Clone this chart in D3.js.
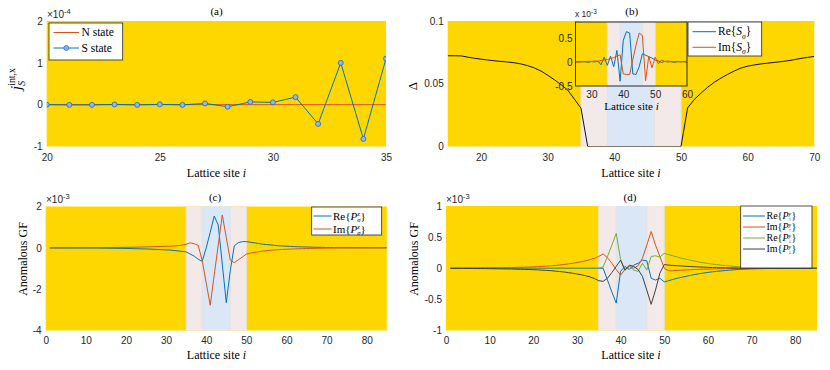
<!DOCTYPE html>
<html><head><meta charset="utf-8">
<script src="https://cdn.jsdelivr.net/npm/d3@7"></script>
<style>body{margin:0;background:#fff;} svg{display:block;}</style>
</head><body><svg id="chart" width="830" height="370"></svg>
<script>
// ---------- DATA ----------
// (a) spin current, units 1e-4
const aSites = [20,21,22,23,24,25,26,27,28,29,30,31,32,33,34,35];
const aNstate = [0,0,0,0,0,0,0,0,0,0,0,0,0,0,0,0];
const aSstate = [0.0,-0.005,-0.005,0.005,-0.005,0.008,-0.005,0.03,-0.05,0.065,0.055,0.18,-0.46,1.0,-0.82,1.1];

// (b) gap profile
const bSites = [15,16,17,18,19,20,21,22,23,24,25,26,27,28,29,30,31,32,33,34,35,36,37,38,39,40,41,42,43,44,45,46,47,48,49,50,51,52,53,54,55,56,57,58,59,60,61,62,63,64,65,66,67,68,69,70];
const bDelta = [0.0723,0.0723,0.0722,0.0712,0.0703,0.0696,0.0689,0.0683,0.0678,0.0673,0.0667,0.0658,0.0644,0.0626,0.0601,0.0568,0.0532,0.0493,0.0450,0.0378,0.0305,
  0,0,0,0,0,0,0,0,0,0,0,0,0,0,0,
  0.0308,0.0375,0.0425,0.0472,0.0512,0.0545,0.0575,0.0602,0.0625,0.0640,0.0650,0.0658,0.0664,0.0670,0.0676,0.0683,0.0692,0.0702,0.0710,0.0718];

// (b) inset, units 1e-3
const insetSites = [25,26,27,28,29,30,31,32,33,34,35,36,37,38,39,40,41,42,43,44,45,46,47,48,49,50,51,52,53,54,55,56,57,58,59,60];
const insetRe = [0.00,0.01,0.00,0.01,-0.01,0.01,0.00,0.02,-0.06,0.10,-0.07,0.12,-0.10,0.24,-0.40,0.45,0.63,0.60,-0.25,-0.26,-0.10,0.17,0.14,0.11,0.08,0.04,0.02,-0.01,0.01,0.00,0.01,-0.01,0.01,0.00,0.01,0.00];
const insetIm = [0.00,-0.01,0.01,0.00,0.01,0.01,0.02,0.01,0.03,0.04,0.05,0.07,0.09,0.12,0.15,-0.25,-0.26,-0.26,0.05,0.35,0.60,0.55,-0.39,0.12,-0.12,0.10,-0.04,0.04,0.01,0.02,0.00,0.01,0.00,0.01,0.00,0.00];

// (c),(d) lattice sites
const cdSites = [1,2,3,4,5,6,7,8,9,10,11,12,13,14,15,16,17,18,19,20,21,22,23,24,25,26,27,28,29,30,31,32,33,34,35,36,37,38,39,40,41,42,43,44,45,46,47,48,49,50,51,52,53,54,55,56,57,58,59,60,61,62,63,64,65,66,67,68,69,70,71,72,73,74,75,76,77,78,79,80,81,82,83,84,85];

// (c) units 1e-3
const cRe = [-0.01,-0.01,-0.01,-0.01,-0.01,-0.01,-0.01,-0.01,-0.01,-0.01,
  -0.01,-0.01,-0.01,-0.015,-0.015,-0.02,-0.02,-0.025,-0.025,-0.03,
  -0.035,-0.04,-0.045,-0.05,-0.055,-0.06,-0.07,-0.08,-0.09,-0.10,
  -0.11,-0.13,-0.15,-0.17,-0.20,
  -0.30,-0.40,-0.55,-0.65,0.00,0.75,1.54,1.10,-0.78,-2.65,-1.10,0.10,0.25,0.30,0.30,
  0.27,0.24,0.21,0.18,0.16,0.14,0.12,0.10,0.09,0.08,
  0.07,0.06,0.05,0.045,0.04,0.035,0.03,0.025,0.02,0.018,
  0.015,0.013,0.011,0.01,0.009,0.008,0.007,0.006,0.005,0.004,
  0.004,0.003,0.003,0.002,0.002];
const cIm = [0.005,0.005,0.006,0.006,0.007,0.007,0.008,0.008,0.009,0.009,
  0.01,0.01,0.01,0.012,0.013,0.015,0.017,0.02,0.022,0.025,
  0.028,0.03,0.035,0.04,0.045,0.05,0.055,0.06,0.07,0.075,
  0.08,0.09,0.11,0.13,0.17,
  0.24,0.20,0.12,-0.62,-1.70,-2.78,-1.30,0.14,1.59,0.50,-0.60,-0.72,-0.58,-0.45,-0.30,
  -0.26,-0.22,-0.19,-0.16,-0.14,-0.12,-0.10,-0.09,-0.08,-0.07,
  -0.06,-0.05,-0.045,-0.04,-0.035,-0.03,-0.025,-0.02,-0.018,-0.015,
  -0.013,-0.011,-0.01,-0.009,-0.008,-0.007,-0.006,-0.005,-0.004,-0.004,
  -0.003,-0.003,-0.002,-0.002,-0.002];

// (d) units 1e-3
const dReUp = [0,0,0,0,0,0,0,0,0,0,
  0,0,0,0,0,0,0,0,0,0,
  0,0,0,0,0,0,0,0,0,0,
  0,0,0,0,0,
  0.00,-0.19,-0.38,-0.56,-0.05,0.03,-0.02,0.05,0.08,0.13,0.12,-0.16,-0.19,-0.16,-0.22,
  -0.20,-0.18,-0.16,-0.145,-0.13,-0.115,-0.10,-0.088,-0.077,-0.067,
  -0.058,-0.05,-0.043,-0.036,-0.03,-0.025,-0.02,-0.016,-0.013,-0.01,
  -0.008,-0.006,-0.005,-0.004,-0.003,-0.002,-0.002,-0.001,-0.001,-0.001,
  0,0,0,0,0];
const dImUp = [0.002,0.002,0.003,0.003,0.004,0.004,0.005,0.005,0.006,0.007,
  0.008,0.009,0.01,0.011,0.012,0.014,0.016,0.018,0.02,0.023,
  0.026,0.03,0.034,0.039,0.045,0.052,0.06,0.07,0.08,0.092,
  0.105,0.12,0.14,0.16,0.19,
  0.23,0.17,0.08,-0.02,-0.11,-0.02,0.03,0.00,0.04,0.16,0.37,0.59,0.37,0.19,0.00,
  -0.04,-0.04,-0.035,-0.03,-0.027,-0.024,-0.02,-0.018,-0.015,-0.013,
  -0.011,-0.01,-0.008,-0.007,-0.006,-0.005,-0.004,-0.003,-0.003,-0.002,
  -0.002,-0.002,-0.001,-0.001,-0.001,-0.001,0,0,0,0,
  0,0,0,0,0];
const dReDown = [0,0,0,0,0,0,0,0,0,0,
  0,0,0,0,0,0,0,0,0,0,
  0,0,0,0,0,0,0,0,0,0,
  0,0,0,0,0,
  0.02,0.19,0.37,0.56,0.14,-0.03,0.03,-0.03,-0.05,0.08,-0.03,0.19,0.20,0.18,0.24,
  0.22,0.20,0.18,0.16,0.145,0.13,0.115,0.10,0.088,0.077,
  0.067,0.058,0.05,0.043,0.036,0.03,0.025,0.02,0.016,0.013,
  0.01,0.008,0.006,0.005,0.004,0.003,0.002,0.002,0.001,0.001,
  0.001,0,0,0,0];
const dImDown = [-0.002,-0.002,-0.003,-0.003,-0.004,-0.004,-0.005,-0.005,-0.006,-0.007,
  -0.008,-0.009,-0.01,-0.011,-0.012,-0.014,-0.016,-0.018,-0.02,-0.023,
  -0.026,-0.03,-0.034,-0.039,-0.045,-0.052,-0.06,-0.07,-0.08,-0.092,
  -0.105,-0.12,-0.14,-0.165,-0.20,
  -0.21,-0.16,-0.07,0.03,0.13,-0.03,0.05,0.03,-0.02,-0.13,-0.35,-0.58,-0.35,-0.08,0.06,
  0.05,0.045,0.04,0.036,0.032,0.028,0.024,0.02,0.017,0.014,
  0.012,0.01,0.008,0.007,0.006,0.005,0.004,0.003,0.003,0.002,
  0.002,0.001,0.001,0.001,0.001,0,0,0,0,0,
  0,0,0,0,0];

// tick labels
const aXTicks = [20,25,30,35], aYTicks = [-1,0,1,2];
const bXTicks = [20,30,40,50,60,70], bYTicks = [0,0.05,0.1];
const insetXTicks = [30,40,50,60], insetYTicks = [-0.5,0,0.5];
const cdXTicks = [0,10,20,30,40,50,60,70,80];
const cYTicks = [-4,-2,0,2], dYTicks = [-1,-0.5,0,0.5,1];
// junction regions (sites)
const outerRegion = [35,50], innerRegion = [39,46];

// ---------- STYLE ----------
const SANS = "'Liberation Sans', Arial, Helvetica, sans-serif";
const SERIF = "'Liberation Serif', 'Times New Roman', serif";
const GOLD = '#FFD700', PINK = '#F4E9E9', LBLUE = '#DAE7F6', EDGE = '#E3E3E3';
const C_BLUE = '#0072BD', C_ORANGE = '#D95319', C_GREEN = '#77AC30', C_GRAY = '#404040';
const TXT = '#262626';

const svg = d3.select('#chart');
const defs = svg.append('defs');

function mathText(parent, x, y, parts, size, opts = {}) {
  const t = parent.append('text').attr('x', x).attr('y', y)
    .attr('font-family', SERIF).attr('font-size', size).attr('fill', opts.fill || '#000');
  if (opts.anchor) t.attr('text-anchor', opts.anchor);
  if (opts.transform) t.attr('transform', opts.transform);
  let cur = 0, pendingDx = 0;
  const small = size * (opts.small || 0.66);
  const upF = opts.up || 0.4, dnF = opts.dn || 0.28;
  parts.forEach(p => {
    if (typeof p === 'string' || p.i) {
      const s = t.append('tspan').text(typeof p === 'string' ? p : p.i);
      if (p.i) s.attr('font-style', 'italic');
      if (cur !== 0) s.attr('dy', -cur);
      if (pendingDx) s.attr('dx', pendingDx);
      cur = 0; pendingDx = 0;
    } else {
      let supW = 0, subW = 0;
      if (p.sup) {
        const up = -size * upF;
        const s = t.append('tspan').attr('font-size', small).attr('dy', up - cur).text(p.sup);
        if (p.supI) s.attr('font-style', 'italic');
        cur = up;
        supW = s.node().getComputedTextLength();
      }
      if (p.sub) {
        const dn = size * dnF;
        const s = t.append('tspan').attr('font-size', small).attr('dy', dn - cur).text(p.sub);
        if (p.subI) s.attr('font-style', 'italic');
        if (p.sup) s.attr('dx', -supW);
        cur = dn;
        subW = s.node().getComputedTextLength();
      }
      pendingDx = (p.sup && p.sub && supW > subW) ? supW - subW : 0;
    }
  });
  return t;
}

function expLabel(parent, x, y, base, exp, size) {
  const t = parent.append('text').attr('x', x).attr('y', y).attr('font-family', SANS)
    .attr('font-size', size).attr('fill', TXT);
  t.append('tspan').text(base);
  t.append('tspan').attr('font-size', size * 0.75).attr('dy', -size * 0.4).text(exp);
}

function panel(o) {
  const x = d3.scaleLinear().domain(o.xd).range([o.l, o.r]);
  const y = d3.scaleLinear().domain(o.yd).range([o.b, o.t]);
  const g = svg.append('g');
  const cid = 'clip-' + o.id;
  defs.append('clipPath').attr('id', cid).append('rect')
    .attr('x', o.l).attr('y', o.t).attr('width', o.r - o.l).attr('height', o.b - o.t);
  g.append('rect').attr('x', o.l).attr('y', o.t).attr('width', o.r - o.l).attr('height', o.b - o.t).attr('fill', GOLD);
  if (o.shade) {
    const sg = g.append('g').attr('clip-path', `url(#${cid})`);
    sg.append('rect').attr('x', x(outerRegion[0])).attr('y', o.t - 2).attr('width', x(outerRegion[1]) - x(outerRegion[0]))
      .attr('height', o.b - o.t + 4).attr('fill', PINK).attr('stroke', EDGE).attr('stroke-width', 1);
    sg.append('rect').attr('x', x(innerRegion[0])).attr('y', o.t - 2).attr('width', x(innerRegion[1]) - x(innerRegion[0]))
      .attr('height', o.b - o.t + 4).attr('fill', LBLUE).attr('stroke', EDGE).attr('stroke-width', 1);
  }
  const fmt = d => String(d);
  const xa = g.append('g').attr('transform', `translate(0,${o.b})`)
    .call(d3.axisBottom(x).tickValues(o.xt).tickSize(0).tickPadding(o.xpad).tickFormat(fmt));
  const ya = g.append('g').attr('transform', `translate(${o.l},0)`)
    .call(d3.axisLeft(y).tickValues(o.yt).tickSize(0).tickPadding(o.ypad || 4).tickFormat(fmt));
  [xa, ya].forEach(a => {
    a.select('.domain').remove();
    a.selectAll('text').attr('font-family', SANS).attr('font-size', o.fs || 10).attr('fill', TXT);
  });
  const plot = g.append('g').attr('clip-path', `url(#${cid})`);
  return { g, plot, x, y };
}

function drawLine(p, xs, ys, color, w) {
  const data = xs.map((v, i) => [v, ys[i]]);
  p.plot.append('path').datum(data)
    .attr('fill', 'none').attr('stroke', color).attr('stroke-width', w || 1)
    .attr('stroke-linejoin', 'round')
    .attr('d', d3.line().x(d => p.x(d[0])).y(d => p.y(d[1])));
  return data;
}

function legend(parent, box, entries, lx0, lx1, tx, size, mopts) {
  parent.append('rect').attr('x', box[0]).attr('y', box[1]).attr('width', box[2]).attr('height', box[3])
    .attr('fill', '#fff').attr('stroke', TXT).attr('stroke-width', 0.8);
  entries.forEach(e => {
    parent.append('line').attr('x1', lx0).attr('x2', lx1).attr('y1', e.y).attr('y2', e.y)
      .attr('stroke', e.color).attr('stroke-width', 1);
    if (e.marker) parent.append('circle').attr('cx', (lx0 + lx1) / 2).attr('cy', e.y).attr('r', 2.4)
      .attr('fill', '#8DB8F2').attr('stroke', '#1F63D0').attr('stroke-width', 0.8);
    mathText(parent, tx, e.y + size * 0.33, e.parts, size, mopts || {});
  });
}

// ---------- (a) ----------
const pa = panel({ id: 'a', l: 46.7, r: 386, t: 21, b: 146.5, xd: [20, 35], yd: [-1, 2], xt: aXTicks, yt: aYTicks, xpad: 7.5 });
drawLine(pa, aSites, aNstate, C_ORANGE, 1);
const sData = drawLine(pa, aSites, aSstate, C_BLUE, 1);
pa.plot.selectAll('circle.m').data(sData).enter().append('circle').attr('class', 'm')
  .attr('cx', d => pa.x(d[0])).attr('cy', d => pa.y(d[1])).attr('r', 2.5)
  .attr('fill', '#8DB8F2').attr('stroke', '#1F63D0').attr('stroke-width', 0.8);
expLabel(svg, 47, 17.5, '×10', '-4', 10);
mathText(svg, 216.5, 15, ['(a)'], 11, { anchor: 'middle' });
mathText(svg, 216.5, 177, ['Lattice site ', { i: 'i' }], 12, { anchor: 'middle' });
mathText(svg, 0, 0, [{ i: 'j' }, { sup: 'int,x', sub: 'S', subI: true }], 15, { anchor: 'middle', transform: 'translate(21,79) rotate(-90)' });
legend(svg, [49, 23, 73.7, 37], [
  { y: 32.5, color: C_ORANGE, parts: ['N state'] },
  { y: 48, color: C_BLUE, parts: ['S state'], marker: true }
], 53.5, 79, 81.5, 11.5);

// ---------- (b) ----------
const pb = panel({ id: 'b', l: 447.7, r: 814.3, t: 21, b: 146.5, xd: [15, 70], yd: [0, 0.1], xt: bXTicks, yt: bYTicks, xpad: 7.5, shade: true });
drawLine(pb, bSites, bDelta, '#111', 1);
mathText(svg, 631.7, 15, ['(b)'], 11, { anchor: 'middle' });
mathText(svg, 631, 177, ['Lattice site ', { i: 'i' }], 12, { anchor: 'middle' });
mathText(svg, 0, 0, ['Δ'], 13, { anchor: 'middle', transform: 'translate(417,86) rotate(-90)' });

// inset
const pin = panel({ id: 'in', l: 575.5, r: 687, t: 22, b: 86, xd: [25, 60], yd: [-0.5, 0.83], xt: insetXTicks, yt: insetYTicks, xpad: 5, ypad: 3, shade: true });
drawLine(pin, insetSites, insetRe, C_BLUE, 1);
drawLine(pin, insetSites, insetIm, C_ORANGE, 1);
pin.g.append('rect').attr('x', 575.5).attr('y', 22).attr('width', 111.5).attr('height', 64)
  .attr('fill', 'none').attr('stroke', '#2b2b2b').attr('stroke-width', 1);
expLabel(svg, 575, 17, 'x 10', '-3', 8.5);
mathText(svg, 631.5, 110, ['Lattice site ', { i: 'i' }], 11, { anchor: 'middle' });
legend(svg, [688, 22, 73.7, 34], [
  { y: 31.7, color: C_BLUE, parts: ['Re{', { i: 'S' }, { sub: 'σ', subI: true }, '}'] },
  { y: 47.3, color: C_ORANGE, parts: ['Im{', { i: 'S' }, { sub: 'σ', subI: true }, '}'] }
], 692.5, 716, 718, 11.5);

// ---------- (c) ----------
const pc = panel({ id: 'c', l: 45.7, r: 386.8, t: 206.5, b: 330.5, xd: [0, 85], yd: [-4, 2], xt: cdXTicks, yt: cYTicks, xpad: 6.5, shade: true });
drawLine(pc, cdSites, cRe, C_BLUE, 1);
drawLine(pc, cdSites, cIm, C_ORANGE, 1);
expLabel(svg, 46, 203, '×10', '-3', 10);
mathText(svg, 215, 201, ['(c)'], 11, { anchor: 'middle' });
mathText(svg, 216.5, 359, ['Lattice site ', { i: 'i' }], 12, { anchor: 'middle' });
mathText(svg, 0, 0, ['Anomalous GF'], 12, { anchor: 'middle', transform: 'translate(27,259) rotate(-90)' });
legend(svg, [311.7, 207, 70, 28], [
  { y: 216, color: C_BLUE, parts: ['Re{', { i: 'P' }, { sup: 'z', supI: true, sub: 'σ', subI: true }, '}'] },
  { y: 229, color: C_ORANGE, parts: ['Im{', { i: 'P' }, { sup: 'z', supI: true, sub: 'σ', subI: true }, '}'] }
], 313.5, 331.5, 333, 11, { small: 0.6, up: 0.36, dn: 0.24 });

// ---------- (d) ----------
const pd = panel({ id: 'd', l: 446, r: 817, t: 206, b: 330.5, xd: [0, 85], yd: [-1, 1], xt: cdXTicks, yt: dYTicks, xpad: 6.5, shade: true });
drawLine(pd, cdSites, dReUp, C_BLUE, 1);
drawLine(pd, cdSites, dImUp, C_ORANGE, 1);
drawLine(pd, cdSites, dReDown, C_GREEN, 1);
drawLine(pd, cdSites, dImDown, C_GRAY, 1);
expLabel(svg, 446, 203, '×10', '-3', 10);
mathText(svg, 630, 201, ['(d)'], 11, { anchor: 'middle' });
mathText(svg, 631, 359, ['Lattice site ', { i: 'i' }], 12, { anchor: 'middle' });
mathText(svg, 0, 0, ['Anomalous GF'], 12, { anchor: 'middle', transform: 'translate(418,259) rotate(-90)' });
legend(svg, [740.7, 206, 71.3, 62], [
  { y: 216, color: C_BLUE, parts: ['Re{', { i: 'P' }, { sup: 'y', supI: true, sub: '↑' }, '}'] },
  { y: 227, color: C_ORANGE, parts: ['Im{', { i: 'P' }, { sup: 'y', supI: true, sub: '↑' }, '}'] },
  { y: 238, color: C_GREEN, parts: ['Re{', { i: 'P' }, { sup: 'y', supI: true, sub: '↓' }, '}'] },
  { y: 249, color: C_GRAY, parts: ['Im{', { i: 'P' }, { sup: 'y', supI: true, sub: '↓' }, '}'] }
], 743, 765, 766.5, 10, { small: 0.58, up: 0.32, dn: 0.2 });
</script></body></html>
